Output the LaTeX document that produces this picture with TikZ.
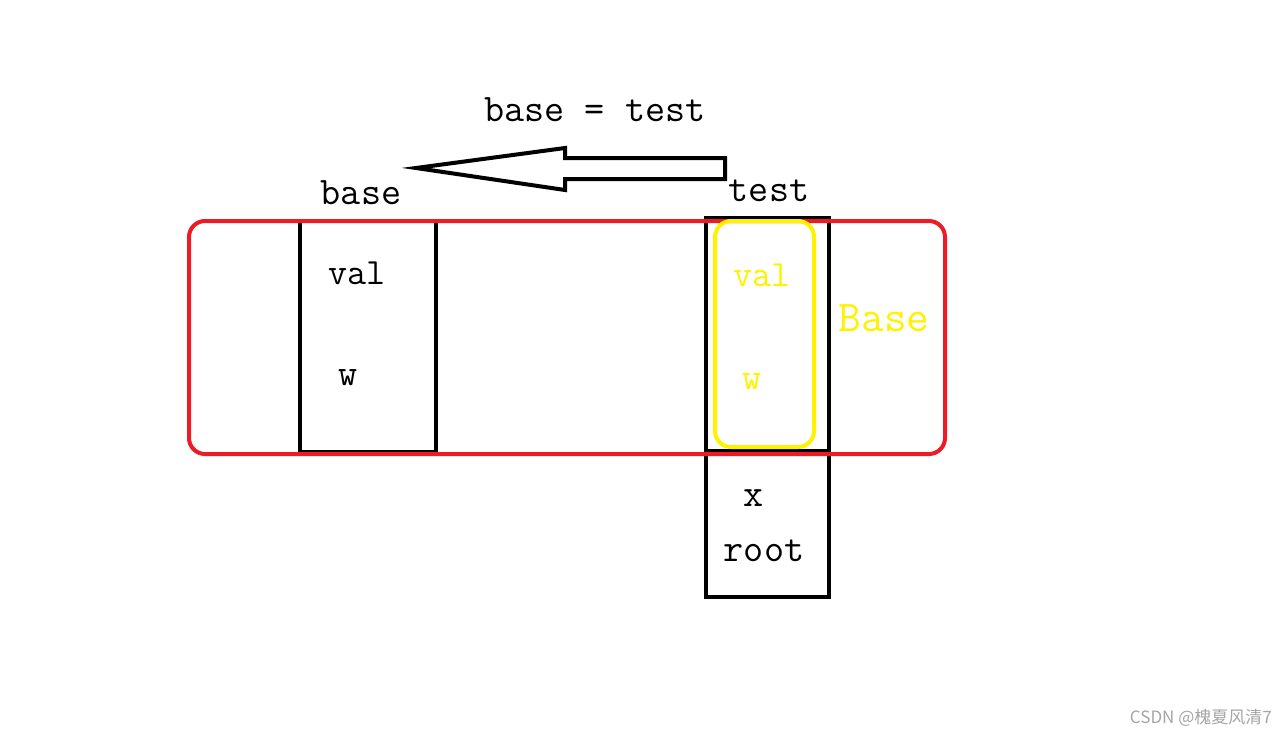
\documentclass[tikz,border=0pt]{standalone}
\usepackage{fontspec}
\newfontfamily\cjk{Noto Sans CJK SC}
\definecolor{redline}{RGB}{237,28,36}
\definecolor{yel}{RGB}{255,242,0}
\definecolor{wm}{RGB}{165,165,165}
\begin{document}
\begin{tikzpicture}[x=1pt,y=-1pt,
  txt/.style={inner sep=0pt, font=\fontsize{39}{39}\selectfont\ttfamily},
  smalltxt/.style={inner sep=0pt, font=\fontsize{37}{37}\selectfont\ttfamily},
  boxline/.style={draw=black, line width=4pt},
  redbox/.style={draw=redline, line width=4pt, rounded corners=16pt},
  yelbox/.style={draw=yel, line width=4pt, rounded corners=16pt},
  hollowarrow/.style={draw=black, line width=4pt, line join=miter}]
\useasboundingbox (0,0) rectangle (1288,736);
% black boxes
\draw[boxline] (300,221) rectangle (436,452);
\draw[boxline] (706,218) rectangle (829,597);
\draw[boxline] (706,451) -- (829,451);
% red and yellow frames
\draw[redbox] (189,221) rectangle (945,454);
\draw[yelbox] (715,221) rectangle (814,447);
% arrow
\coordinate (tip) at (416,168);
\draw[hollowarrow] (tip) -- (565,148) -- (565,158) -- (725,158) -- (725,179) -- (565,179) -- (565,190) -- cycle;
% texts
\node[txt] (assign) at (595,110) {base = test};
\node[txt] (basel) at (361,193) {base};
\node[txt] (testl) at (769,191) {test};
\node[smalltxt] (val1) at (357,273) {val};
\node[smalltxt] (w1) at (348,378) {w};
\node[smalltxt, text=yel] (val2) at (762,275) {val};
\node[smalltxt, text=yel] (w2) at (752,382) {w};
\node[inner sep=0pt, text=yel, font=\fontsize{44}{44}\selectfont\ttfamily] (Base) at (884,318) {Base};
\node[txt] (x) at (754,498) {x};
\node[txt] (root) at (764,551) {root};
\node[inner sep=0pt, text=wm, font=\fontsize{17}{17}\selectfont\cjk, anchor=east] (wmark) at (1272,718) {CSDN @槐夏风清7};
\end{tikzpicture}
\end{document}
